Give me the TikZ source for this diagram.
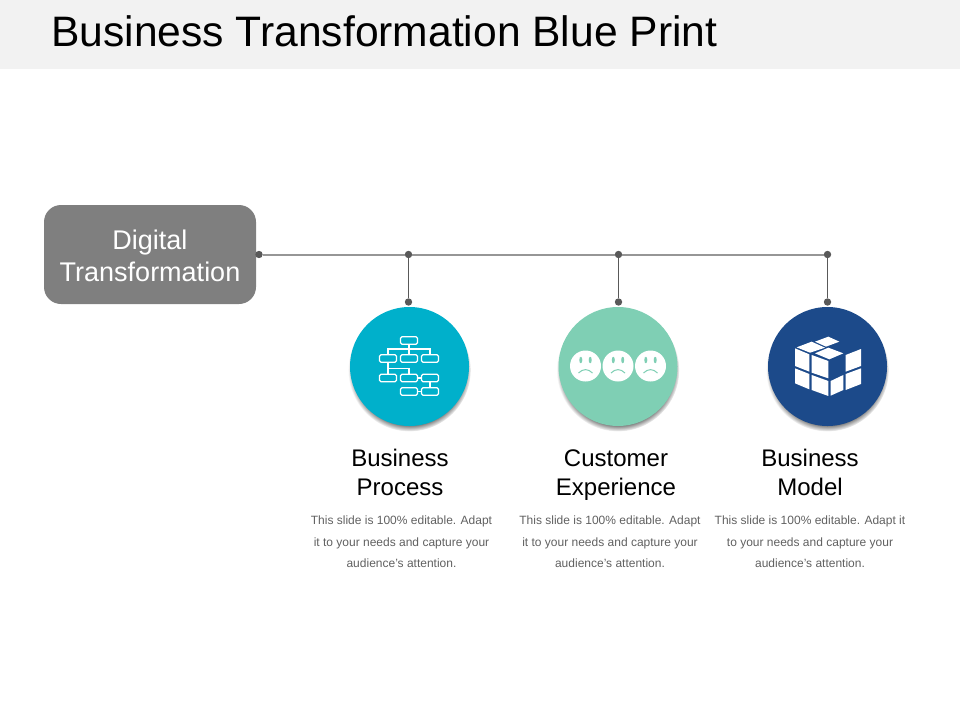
\documentclass[tikz,border=0pt]{standalone}
\usepackage{fontspec}
\setmainfont{Liberation Sans}
\usepackage{tikz}
\usetikzlibrary{positioning,shadows,shapes.geometric}
\definecolor{headbg}{HTML}{F2F2F2}
\definecolor{boxgray}{HTML}{7F7F7F}
\definecolor{dotgray}{HTML}{595959}
\definecolor{linegray}{HTML}{969696}
\definecolor{bluecyan}{HTML}{00B0CB}
\definecolor{mint}{HTML}{7FCFB4}
\definecolor{navy}{HTML}{1C4A8A}
\definecolor{bodygray}{HTML}{606060}
\begin{document}
\begin{tikzpicture}[x=1pt, y=-1pt,
    dot/.style={circle, fill=dotgray, minimum size=7.4pt, inner sep=0pt},
    mainline/.style={line width=2pt, linegray},
    dropline/.style={line width=1.5pt, dotgray},
    disc/.style={circle, minimum size=119pt, inner sep=0pt, circular drop shadow={shadow xshift=0pt, shadow yshift=-3.5pt, shadow scale=1.03, fill=black, opacity=.75}},
    heading/.style={align=center, inner sep=0pt, font=\fontsize{24}{29}\selectfont},
    blurb/.style={align=center, inner sep=0pt, text=bodygray, font=\fontsize{12}{21.5}\selectfont},
    orgbox/.style={draw=white, line width=1.1pt, rounded corners=1.5pt, minimum width=17pt, minimum height=7.5pt, inner sep=0pt},
    orgline/.style={draw=white, line width=1.1pt},
    face/.style={circle, fill=white, minimum size=31pt, inner sep=0pt},
    facemark/.style={draw=mint, line width=1pt},
    eyemark/.style={ellipse, fill=mint, minimum width=3pt, minimum height=6.5pt, inner sep=0pt},
    tile/.style={fill=white}]
    \useasboundingbox (0,0) rectangle (960,720);
    \fill[headbg] (0,0) rectangle (960,69);
    \node[anchor=base west, inner sep=0pt, font=\fontsize{42.6}{50}\selectfont] (title) at (51,46.5) {Business Transformation Blue Print};

    \node[fill=boxgray, rounded corners=17pt, minimum width=212pt, minimum height=99pt, inner sep=0pt] (digitalbox) at (150,254.5) {};
    \node[inner sep=0pt, text=white, align=center, font=\fontsize{27}{32}\selectfont] (digital) at (150,256) {Digital\\Transformation};

    \node[dot] (start) at (259,254.5) {};
    \node[dot] (top1) at (408.5,254.5) {};
    \node[dot] (top2) at (618.5,254.5) {};
    \node[dot] (top3) at (827.5,254.5) {};
    \node[dot] (low1) at (408.5,302) {};
    \node[dot] (low2) at (618.5,302) {};
    \node[dot] (low3) at (827.5,302) {};
    \draw[mainline] (start) -- (top1);
    \draw[mainline] (top1) -- (top2);
    \draw[mainline] (top2) -- (top3);
    \draw[dropline] (top1) -- (low1);
    \draw[dropline] (top2) -- (low2);
    \draw[dropline] (top3) -- (low3);

    \node[disc, fill=bluecyan] (process) at (409.5,366.5) {};
    \node[disc, fill=mint] (experience) at (618,366.5) {};
    \node[disc, fill=navy] (model) at (827.5,366.5) {};

    \node[orgbox] (a) at (409,340.5) {};
    \node[orgbox] (b1) at (388,358.5) {};
    \node[orgbox] (b2) at (409,358.5) {};
    \node[orgbox] (b3) at (430,358.5) {};
    \node[orgbox] (c1) at (388,378) {};
    \node[orgbox] (c2) at (409,378) {};
    \node[orgbox] (c3) at (430,378) {};
    \node[orgbox] (d2) at (409,391.5) {};
    \node[orgbox] (d3) at (430,391.5) {};
    \coordinate (bus) at (409,349);
    \coordinate (fork) at (388,368.5);
    \draw[orgline] (a) -- (b2);
    \draw[orgline] (b1) |- (bus) -| (b3);
    \draw[orgline] (b1) -- (c1);
    \draw[orgline] (fork) -| (c2);
    \draw[orgline] (c2) -- (c3);
    \draw[orgline] (c3) -- (d3);
    \draw[orgline] (d2) -- (d3);

    \node[face] (sad1) at (585.5,366) {};
    \node[face] (sad2) at (618,366) {};
    \node[face] (sad3) at (650.5,366) {};
    \foreach \f in {sad1,sad2,sad3} {
        \node[eyemark] (\f l) at ([xshift=-4.7pt,yshift=6pt]\f.center) {};
        \node[eyemark] (\f r) at ([xshift=4.7pt,yshift=6pt]\f.center) {};
        \draw[facemark] ([xshift=-7pt,yshift=-7pt]\f.center) .. controls ([xshift=-2.5pt,yshift=-2.5pt]\f.center) and ([xshift=2.5pt,yshift=-2.5pt]\f.center) .. ([xshift=7pt,yshift=-7pt]\f.center);
    }

    \begin{scope}[shift={(760,300)}, x=.3333pt, y=-.3333pt]
        \fill[tile] (165,125) -- (205,110) -- (238,125) -- (198,140) -- cycle;
        \fill[tile] (110,142) -- (155,125) -- (195,143) -- (150,158) -- cycle;
        \fill[tile] (165,160) -- (205,143) -- (250,160) -- (208,178) -- cycle;
        \fill[tile] (105,145) -- (148,163) -- (148,215) -- (105,198) -- cycle;
        \fill[tile] (155,165) -- (205,183) -- (205,235) -- (155,218) -- cycle;
        \fill[tile] (105,205) -- (148,222) -- (148,268) -- (105,250) -- cycle;
        \fill[tile] (155,225) -- (205,243) -- (205,288) -- (155,270) -- cycle;
        \fill[tile] (212,243) -- (250,225) -- (250,270) -- (212,287) -- cycle;
        \fill[tile] (257,165) -- (303,147) -- (303,198) -- (257,215) -- cycle;
        \fill[tile] (257,222) -- (303,205) -- (303,252) -- (257,270) -- cycle;
    \end{scope}

    \node[heading] (label1) at (400,472.5) {Business\\Process};
    \node[heading] (label2) at (616,475) {Customer\\Experience};
    \node[heading] (label3) at (810,472.5) {Business\\Model};
    \node[blurb] (text1) at (401.5,542) {This slide is 100\% editable. Adapt\\it to your needs and capture your\\audience's attention.};
    \node[blurb] (text2) at (610,542) {This slide is 100\% editable. Adapt\\it to your needs and capture your\\audience's attention.};
    \node[blurb] (text3) at (810,542) {This slide is 100\% editable. Adapt it\\to your needs and capture your\\audience's attention.};
\end{tikzpicture}
\end{document}
